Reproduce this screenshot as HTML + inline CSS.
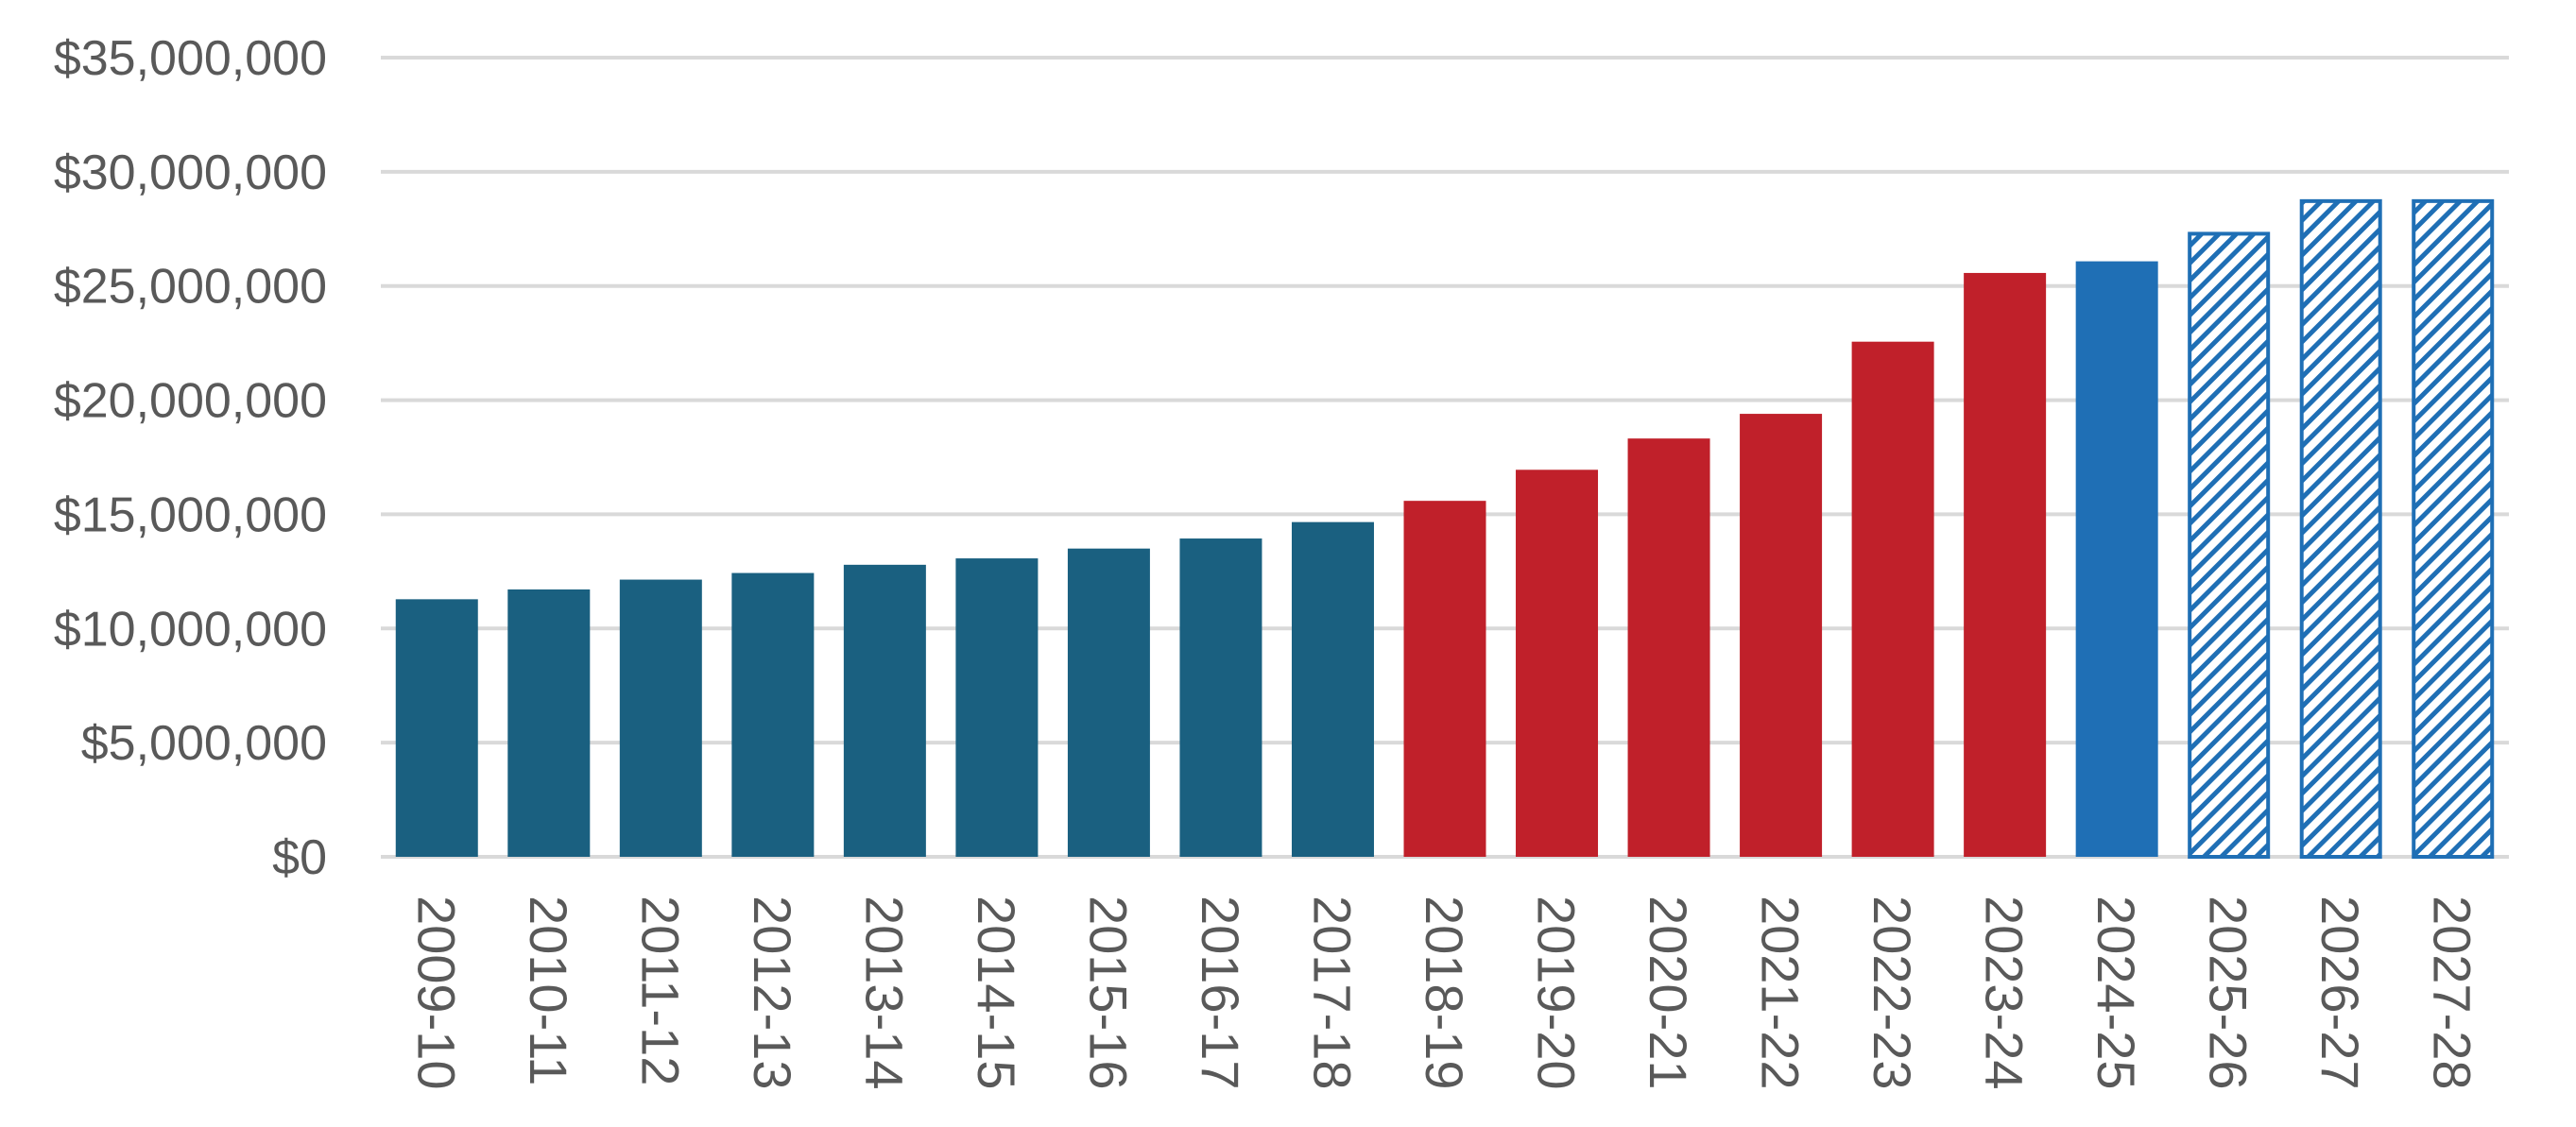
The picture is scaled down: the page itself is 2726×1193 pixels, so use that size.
<!DOCTYPE html>
<html><head><meta charset="utf-8"><style>
html,body{margin:0;padding:0;background:#fff;}
svg{display:block;font-family:"Liberation Sans",sans-serif;}
</style></head><body>
<svg id="chart" width="2726" height="1193" viewBox="0 0 2726 1193" xmlns="http://www.w3.org/2000/svg">
<defs>
<pattern id="hatch" patternUnits="userSpaceOnUse" width="13" height="13" patternTransform="rotate(45)">
<rect width="13" height="13" fill="#fff"/>
<rect x="0" y="0" width="5" height="13" fill="#1f6fb5"/>
</pattern>
</defs>
<g id="grid"></g>
<g id="yaxis"></g>
<g id="bars"></g>
<g id="xaxis"></g>
</svg>
<script>
const categories = ["2009-10","2010-11","2011-12","2012-13","2013-14","2014-15","2015-16","2016-17","2017-18","2018-19","2019-20","2020-21","2021-22","2022-23","2023-24","2024-25","2025-26","2026-27","2027-28"];
const values = [11280000,11710000,12140000,12430000,12790000,13070000,13500000,13940000,14660000,15590000,16950000,18320000,19400000,22560000,25570000,26080000,27370000,28800000,28800000];
const groups = ["hist","hist","hist","hist","hist","hist","hist","hist","hist","red","red","red","red","red","red","cur","proj","proj","proj"];
const yTicks = [0,5000000,10000000,15000000,20000000,25000000,30000000,35000000];
const yTickLabels = ["$0","$5,000,000","$10,000,000","$15,000,000","$20,000,000","$25,000,000","$30,000,000","$35,000,000"];

const NS="http://www.w3.org/2000/svg";
const X0=403, X1=2655, Y0=907, Ytop=61, YMAX=35000000;
const band=(X1-X0)/categories.length, barW=87;
function y(v){return Y0-(v/YMAX)*(Y0-Ytop);}
function xc(i){return X0+band*(i+0.5);}
function mk(tag,attrs,parent){const e=document.createElementNS(NS,tag);for(const k in attrs)e.setAttribute(k,attrs[k]);parent.appendChild(e);return e;}
const grid=document.getElementById('grid'),ya=document.getElementById('yaxis'),bars=document.getElementById('bars'),xa=document.getElementById('xaxis');
yTicks.forEach((t,i)=>{
  const l=mk('line',{x1:X0,x2:X1,y1:y(t),y2:y(t),stroke:'#d9d9d9','stroke-width':4},grid);
  
  
  const tx=mk('text',{x:346,y:y(t)+18,'text-anchor':'end','font-size':52,fill:'#595959'},ya);
  tx.textContent=yTickLabels[i];
  
  
});
const fills={hist:'#1a6080',red:'#c0202a',cur:'#1f6fb5'};
values.forEach((v,i)=>{
  const g=groups[i];
  let r;
  if(g==='proj'){
    r=mk('rect',{x:xc(i)-barW/2+2,y:y(v)+2,width:barW-4,height:Y0-y(v)-2,fill:'url(#hatch)',stroke:'#1f6fb5','stroke-width':4},bars);
  } else {
    r=mk('rect',{x:xc(i)-barW/2,y:y(v),width:barW,height:Y0-y(v),fill:fills[g]},bars);
  }
  
  
  const tx=mk('text',{x:0,y:0,'font-size':56,fill:'#595959',transform:'translate('+(xc(i)-20)+','+948+') rotate(90)'},xa);
  tx.textContent=categories[i];
  
  
});
</script>
</body></html>
